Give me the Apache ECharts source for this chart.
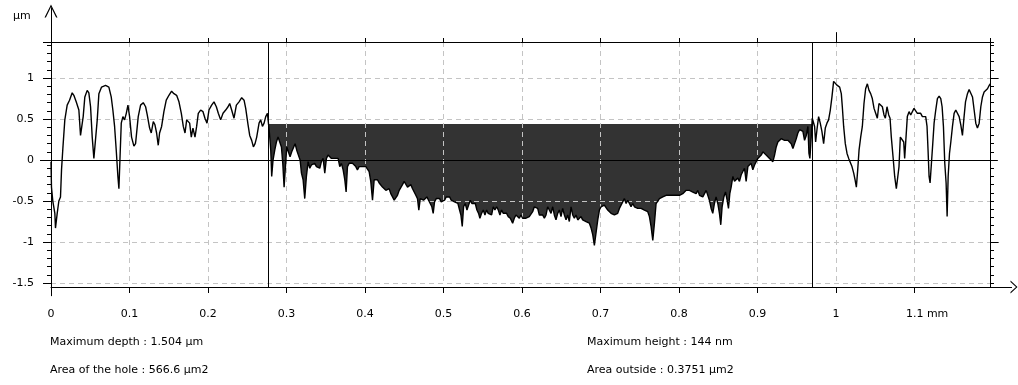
<!DOCTYPE html>
<html><head><meta charset="utf-8">
<script src="https://cdn.jsdelivr.net/npm/echarts@6/dist/echarts.min.js"></script>
<style>html,body{margin:0;padding:0;background:#fff}#c{width:1018px;height:385px}</style>
</head><body><div id="c"></div>
<script>
// ---- data (x in mm, height in µm) ----
const profileLeft = [[0,-0.02],[0.0006,-0.33],[0.0023,-0.5],[0.0049,-0.65],[0.0057,-0.83],[0.0079,-0.65],[0.0100,-0.5],[0.0121,-0.45],[0.0134,-0.12],[0.0151,0.14],[0.0176,0.49],[0.0206,0.67],[0.0236,0.73],[0.0270,0.82],[0.0291,0.79],[0.0321,0.71],[0.0355,0.61],[0.0376,0.30],[0.0397,0.28],[0.0410,0.53],[0.0431,0.77],[0.0461,0.85],[0.0482,0.82],[0.0504,0.65],[0.0525,0.28],[0.0546,0.02],[0.0567,0.02],[0.0589,0.49],[0.0610,0.81],[0.0644,0.89],[0.0695,0.91],[0.0737,0.89],[0.0767,0.77],[0.0788,0.61],[0.0810,0.41],[0.0831,0.12],[0.0852,-0.2],[0.0865,-0.35],[0.0878,0],[0.0895,0.45],[0.0916,0.53],[0.0937,0.49],[0.0959,0.57],[0.0980,0.67],[0.1001,0.53],[0.1026,0.28],[0.1056,0.17],[0.1077,0.2],[0.1111,0.53],[0.1141,0.67],[0.1175,0.70],[0.1205,0.65],[0.1226,0.55],[0.1256,0.39],[0.1277,0.33],[0.1303,0.47],[0.1324,0.43],[0.1345,0.33],[0.1366,0.18],[0.1383,0.33],[0.1409,0.41],[0.1438,0.59],[0.1468,0.73],[0.1502,0.79],[0.1536,0.84],[0.1566,0.81],[0.1600,0.79],[0.1630,0.71],[0.1660,0.57],[0.1685,0.41],[0.1707,0.33],[0.1728,0.49],[0.1749,0.47],[0.1766,0.45],[0.1787,0.28],[0.1808,0.39],[0.1834,0.28],[0.1855,0.41],[0.1876,0.57],[0.1906,0.61],[0.1936,0.59],[0.1961,0.51],[0.1987,0.45],[0.2012,0.61],[0.2046,0.67],[0.2076,0.71],[0.2106,0.65],[0.2131,0.57],[0.2161,0.49],[0.2191,0.57],[0.2225,0.61],[0.2255,0.65],[0.2276,0.69],[0.2301,0.61],[0.2331,0.51],[0.2361,0.67],[0.2395,0.71],[0.2429,0.76],[0.2459,0.73],[0.2480,0.63],[0.2510,0.43],[0.2531,0.3],[0.2556,0.24],[0.2578,0.16],[0.2599,0.2],[0.2620,0.28],[0.2650,0.45],[0.2671,0.49],[0.2693,0.41],[0.2714,0.45],[0.2735,0.53],[0.2757,0.57]];

const holeWest = [[0.2765,0.57],[0.2782,0.33],[0.2799,0.12],[0.2811,-0.2],[0.2828,0],[0.2850,0.12],[0.2871,0.22],[0.2892,0.28],[0.2913,0.30],[0.2935,0.16],[0.2952,-0.04],[0.2969,-0.33],[0.2986,-0.08],[0.3003,0.16],[0.3024,0.14],[0.3045,0.04],[0.3066,0.10],[0.3088,0.08],[0.3109,0.20],[0.3130,0.12],[0.3151,0.06],[0.3173,0],[0.3190,-0.16],[0.3211,-0.24],[0.3232,-0.47],[0.3253,-0.2],[0.3275,-0.02],[0.3296,-0.1],[0.3317,-0.06],[0.3338,-0.08],[0.3359,-0.04],[0.3381,-0.08],[0.3402,-0.06],[0.3423,-0.1],[0.3444,-0.02],[0.3466,0.02],[0.3487,-0.16],[0.3508,0.02],[0.3529,0.06],[0.3551,0.08],[0.3572,0.02],[0.3593,0.04],[0.3614,0.02],[0.3636,0],[0.3657,0.02],[0.3678,-0.08],[0.3699,-0.04],[0.3721,-0.12],[0.3742,-0.24],[0.3759,-0.39],[0.3776,-0.08],[0.3797,-0.04],[0.3818,-0.02],[0.3840,-0.04],[0.3861,-0.02],[0.3882,-0.08],[0.3903,-0.12],[0.3925,-0.08],[0.3946,-0.1],[0.3967,-0.08],[0.3988,-0.1],[0.4010,-0.08],[0.4031,-0.1],[0.4052,-0.14],[0.4073,-0.26],[0.4095,-0.49],[0.4116,-0.24],[0.4137,-0.22],[0.4158,-0.24],[0.4180,-0.28],[0.4201,-0.3],[0.4222,-0.33],[0.4243,-0.35],[0.4265,-0.37],[0.4286,-0.39],[0.4307,-0.35],[0.4328,-0.41],[0.4350,-0.45],[0.4371,-0.49],[0.4392,-0.51],[0.4413,-0.43],[0.4435,-0.37],[0.4456,-0.35],[0.4477,-0.3],[0.4498,-0.26],[0.4520,-0.28],[0.4541,-0.33],[0.4562,-0.35],[0.4583,-0.3],[0.4605,-0.35],[0.4626,-0.33],[0.4647,-0.43],[0.4668,-0.47],[0.4685,-0.61],[0.4703,-0.47],[0.4724,-0.45],[0.4745,-0.49],[0.4766,-0.47],[0.4788,-0.45],[0.4809,-0.49],[0.4830,-0.53],[0.4851,-0.57],[0.4868,-0.65],[0.4885,-0.51],[0.4907,-0.47],[0.4928,-0.49],[0.4949,-0.47],[0.4970,-0.51],[0.4992,-0.53],[0.5013,-0.49],[0.5034,-0.45],[0.5055,-0.47],[0.5077,-0.45],[0.5098,-0.49],[0.5119,-0.47],[0.5140,-0.51],[0.5162,-0.49],[0.5183,-0.53],[0.5204,-0.61],[0.5221,-0.67],[0.5238,-0.81],[0.5255,-0.57],[0.5276,-0.53],[0.5298,-0.61],[0.5319,-0.55],[0.5340,-0.49],[0.5361,-0.53],[0.5383,-0.51],[0.5404,-0.53],[0.5425,-0.61],[0.5446,-0.65],[0.5463,-0.71],[0.5484,-0.65],[0.5506,-0.61],[0.5527,-0.67],[0.5548,-0.61],[0.5569,-0.65],[0.5591,-0.63],[0.5612,-0.67],[0.5633,-0.57],[0.5654,-0.61],[0.5676,-0.57],[0.5697,-0.61],[0.5718,-0.67],[0.5739,-0.61],[0.5761,-0.65],[0.5782,-0.67],[0.5803,-0.65],[0.5824,-0.69],[0.5850,-0.71]];

const holeEast = [[0.5858,-0.73],[0.5880,-0.77],[0.5901,-0.71],[0.5922,-0.67],[0.5944,-0.69],[0.5965,-0.71],[0.5986,-0.67],[0.6007,-0.71],[0.6029,-0.69],[0.6050,-0.71],[0.6071,-0.71],[0.6092,-0.69],[0.6114,-0.67],[0.6135,-0.63],[0.6156,-0.57],[0.6177,-0.55],[0.6199,-0.59],[0.6220,-0.67],[0.6241,-0.69],[0.6262,-0.67],[0.6284,-0.71],[0.6305,-0.67],[0.6326,-0.57],[0.6347,-0.61],[0.6369,-0.65],[0.6390,-0.57],[0.6411,-0.67],[0.6432,-0.73],[0.6454,-0.65],[0.6475,-0.61],[0.6496,-0.69],[0.6517,-0.59],[0.6539,-0.67],[0.6560,-0.73],[0.6581,-0.67],[0.6602,-0.75],[0.6624,-0.57],[0.6645,-0.67],[0.6666,-0.71],[0.6687,-0.67],[0.6709,-0.73],[0.6730,-0.71],[0.6751,-0.69],[0.6772,-0.73],[0.6794,-0.71],[0.6815,-0.75],[0.6836,-0.77],[0.6857,-0.77],[0.6879,-0.83],[0.6900,-0.91],[0.6921,-1.04],[0.6942,-0.89],[0.6964,-0.73],[0.6985,-0.61],[0.7006,-0.57],[0.7027,-0.59],[0.7048,-0.55],[0.7070,-0.57],[0.7091,-0.61],[0.7112,-0.59],[0.7133,-0.65],[0.7155,-0.63],[0.7176,-0.67],[0.7197,-0.69],[0.7218,-0.65],[0.7240,-0.59],[0.7261,-0.55],[0.7282,-0.51],[0.7303,-0.47],[0.7325,-0.53],[0.7346,-0.49],[0.7367,-0.53],[0.7388,-0.57],[0.7410,-0.53],[0.7431,-0.57],[0.7452,-0.55],[0.7473,-0.59],[0.7495,-0.57],[0.7516,-0.59],[0.7537,-0.57],[0.7558,-0.61],[0.7580,-0.59],[0.7601,-0.63],[0.7622,-0.69],[0.7643,-0.81],[0.7665,-0.98],[0.7686,-0.77],[0.7707,-0.53],[0.7728,-0.51],[0.7750,-0.47],[0.7771,-0.49],[0.7792,-0.45],[0.7813,-0.47],[0.7835,-0.43],[0.7856,-0.45],[0.7877,-0.43],[0.7898,-0.41],[0.7920,-0.43],[0.7941,-0.41],[0.7962,-0.43],[0.7983,-0.43],[0.8005,-0.43],[0.8026,-0.43],[0.8047,-0.41],[0.8068,-0.39],[0.8090,-0.37],[0.8111,-0.39],[0.8132,-0.37],[0.8153,-0.35],[0.8175,-0.39],[0.8196,-0.37],[0.8217,-0.41],[0.8238,-0.37],[0.8260,-0.43],[0.8281,-0.41],[0.8302,-0.45],[0.8323,-0.43],[0.8345,-0.37],[0.8366,-0.39],[0.8386,-0.49],[0.8408,-0.59],[0.8429,-0.65],[0.8450,-0.53],[0.8471,-0.45],[0.8493,-0.53],[0.8514,-0.65],[0.8531,-0.79],[0.8548,-0.57],[0.8570,-0.45],[0.8591,-0.39],[0.8612,-0.49],[0.8629,-0.59],[0.8646,-0.41],[0.8663,-0.33],[0.8685,-0.2],[0.8706,-0.26],[0.8727,-0.24],[0.8748,-0.22],[0.8769,-0.26],[0.8791,-0.18],[0.8812,-0.14],[0.8833,-0.1],[0.8854,-0.26],[0.8876,-0.08],[0.8897,-0.06],[0.8918,-0.04],[0.8939,-0.12],[0.8961,-0.06],[0.8982,-0.02],[0.9003,0.02],[0.9024,0.04],[0.9046,0.06],[0.9067,0.1],[0.9088,0.12],[0.9109,0.06],[0.9131,0.04],[0.9152,0.02]];

const profileRight = [[0.9173,0],[0.9195,-0.02],[0.9216,0.06],[0.9237,0.16],[0.9258,0.22],[0.9280,0.24],[0.9301,0.26],[0.9322,0.24],[0.9343,0.24],[0.9365,0.22],[0.9386,0.24],[0.9407,0.22],[0.9428,0.2],[0.9450,0.14],[0.9471,0.2],[0.9492,0.26],[0.9513,0.33],[0.9535,0.37],[0.9556,0.39],[0.9577,0.35],[0.9598,0.24],[0.9620,0.3],[0.9641,0.41],[0.9654,0.08],[0.9666,0.02],[0.9683,0.28],[0.9696,0.51],[0.9713,0.53],[0.9726,0.41],[0.9739,0.22],[0.9756,0.37],[0.9777,0.53],[0.9798,0.45],[0.9819,0.35],[0.9841,0.2],[0.9862,0.39],[0.9883,0.45],[0.9904,0.49],[0.9926,0.61],[0.9947,0.77],[0.9968,0.96],[0.9989,0.98],[1.0015,0.91],[1.0045,0.89],[1.0066,0.81],[1.0079,0.65],[1.0096,0.41],[1.0117,0.2],[1.0139,0.08],[1.0160,0.02],[1.0181,0.02],[1.0202,-0.08],[1.0224,-0.16],[1.0241,-0.24],[1.0258,-0.33],[1.0275,-0.12],[1.0292,0.12],[1.0313,0.28],[1.0334,0.41],[1.0355,0.69],[1.0376,0.87],[1.0398,0.93],[1.0419,0.85],[1.0440,0.81],[1.0461,0.75],[1.0483,0.63],[1.0504,0.57],[1.0525,0.51],[1.0546,0.69],[1.0568,0.69],[1.0589,0.65],[1.0610,0.55],[1.0627,0.51],[1.0648,0.65],[1.0670,0.55],[1.0687,0.51],[1.0703,0.28],[1.0725,0.04],[1.0746,-0.2],[1.0767,-0.35],[1.0788,-0.37],[1.0801,-0.08],[1.0818,0.28],[1.0839,0.3],[1.0861,0.22],[1.0873,0.02],[1.0895,0.02],[1.0907,0.53],[1.0929,0.59],[1.0950,0.55],[1.0971,0.53],[1.0992,0.63],[1.1014,0.61],[1.1035,0.57],[1.1056,0.55],[1.1077,0.57],[1.1099,0.53],[1.1120,0.55],[1.1141,0.53],[1.1158,0.41],[1.1171,0.12],[1.1184,-0.2],[1.1197,-0.28],[1.1214,-0.04],[1.1231,0.2],[1.1248,0.45],[1.1269,0.61],[1.1290,0.75],[1.1312,0.78],[1.1333,0.75],[1.1350,0.65],[1.1367,0.41],[1.1384,-0.04],[1.1401,-0.28],[1.1414,-0.69],[1.1427,-0.2],[1.1444,0.08],[1.1461,0.22],[1.1482,0.41],[1.1503,0.57],[1.1524,0.61],[1.1545,0.59],[1.1567,0.53],[1.1588,0.43],[1.1609,0.3],[1.1626,0.49],[1.1648,0.71],[1.1673,0.81],[1.1694,0.86],[1.1715,0.85],[1.1737,0.77],[1.1758,0.61],[1.1779,0.45],[1.1800,0.39],[1.1822,0.45],[1.1843,0.65],[1.1864,0.77],[1.1885,0.83],[1.1907,0.85],[1.1928,0.87],[1.1949,0.91],[1.1966,0.93]];

const holeBounds = [0.2764, 0.9697];   // vertical cursors (mm)
const holeLevel = 0.44;                // reference level of the hole (µm)
const infoLeft = ['Maximum depth : 1.504 µm', 'Area of the hole : 566.6 µm2'];
const infoRight = ['Maximum height : 144 nm', 'Area outside : 0.3751 µm2'];
const yUnit = 'µm';
const xUnit = 'mm';

// ---- chart ----
const X_MIN = 0, X_MAX = 1.196, Y_MIN = -1.5, Y_MAX = 1.44, Y_AXIS = -1.55;
const FONT = 'DejaVu Sans';
const profile = profileLeft.concat(holeWest, holeEast, profileRight);
const holeFill = [[holeBounds[0], holeLevel]]
  .concat(profile.filter(p => p[0] > holeBounds[0] && p[0] < holeBounds[1]).map(p => [p[0], Math.min(p[1], holeLevel)]))
  .concat([[holeBounds[1], holeLevel]]);

const chevX = 'path://M0,7 L6.5,0 L13,7 L11.4,7 L6.5,1.5 L1.6,7 Z';
const chevY = 'path://M0,13 L6.5,0 L13,13 L11.6,13 L6.5,2.6 L1.4,13 Z';
const grey = '#c4c4c4';
const txt = {fontFamily: FONT, fontSize: 11, color: '#000', fontWeight: 'normal'};

const decor = [
  [[holeBounds[0], Y_AXIS], [holeBounds[0], Y_MAX]],
  [[holeBounds[1], Y_AXIS], [holeBounds[1], Y_MAX]],
  [[-0.014, 0], [1.206, 0]],
  [[X_MAX, Y_AXIS], [1.224, Y_AXIS]],
  [[X_MAX, Y_MIN], [X_MAX, Y_AXIS]],
  [[X_MIN, Y_MIN], [X_MIN, -1.66]],
  [[X_MIN, Y_MAX], [X_MIN, 1.86]],
  [[1, Y_MAX], [1, 1.56]],
  [[X_MAX, 1], [1.207, 1]],
  [[X_MAX, -1], [1.207, -1]]
];

const chart = echarts.init(document.getElementById('c'), null, {renderer: 'canvas'});
chart.setOption({
  animation: false,
  backgroundColor: '#fff',
  title: [
    {text: yUnit, left: 13, top: 11, padding: 0, textStyle: txt},
    {text: infoLeft[0], left: 50, top: 337, padding: 0, textStyle: txt},
    {text: infoLeft[1], left: 50, top: 365, padding: 0, textStyle: txt},
    {text: infoRight[0], left: 587, top: 337, padding: 0, textStyle: txt},
    {text: infoRight[1], left: 587, top: 365, padding: 0, textStyle: txt}
  ],
  grid: {left: 51, right: 28, top: 42, bottom: 102, containLabel: false, outerBoundsMode: 'none'},
  xAxis: [{
    type: 'value', position: 'bottom', min: X_MIN, max: X_MAX, interval: 0.1, offset: 4, z: 3,
    axisLine: {show: true, onZero: false, lineStyle: {color: '#000', width: 1}, symbol: ['none', chevX], symbolSize: [13, 7], symbolOffset: [0, 24]},
    axisTick: {show: true, inside: false, length: 6, lineStyle: {color: '#000'}},
    axisLabel: {show: true, margin: 22, showMaxLabel: false, fontFamily: FONT, fontSize: 11, color: '#000',
      formatter: v => Math.abs(v - 1.1) < 1e-9 ? '{pad|}1.1 ' + xUnit : String(v),
      rich: {pad: {width: 25}}},
    splitLine: {show: true, lineStyle: {color: grey, width: 1, type: [5, 4]}}
  }, {
    type: 'value', position: 'top', min: X_MIN, max: X_MAX, interval: 0.1, z: 3,
    axisLine: {show: true, onZero: false, lineStyle: {color: '#000', width: 1}},
    axisTick: {show: true, inside: false, length: 4, lineStyle: {color: '#000'}},
    axisLabel: {show: false}, splitLine: {show: false}
  }],
  yAxis: [{
    type: 'value', position: 'left', min: Y_MIN, max: Y_MAX, interval: 0.5, z: 3,
    axisLine: {show: true, onZero: false, lineStyle: {color: '#000', width: 1}, symbol: ['none', chevY], symbolSize: [13, 13], symbolOffset: [0, 31]},
    axisTick: {show: true, inside: false, length: 8, lineStyle: {color: '#000'}},
    minorTick: {show: true, splitNumber: 5, length: 4, lineStyle: {color: '#000'}},
    axisLabel: {show: true, margin: 17, showMaxLabel: false, fontFamily: FONT, fontSize: 11, color: '#000'},
    splitLine: {show: true, lineStyle: {color: grey, width: 1, type: [5, 4]}}
  }, {
    type: 'value', position: 'right', min: Y_MIN, max: Y_MAX, interval: 0.5, z: 3,
    axisLine: {show: true, onZero: false, lineStyle: {color: '#000', width: 1}},
    axisTick: {show: true, inside: false, length: 4, lineStyle: {color: '#000'}},
    minorTick: {show: true, splitNumber: 5, length: 4, lineStyle: {color: '#000'}},
    axisLabel: {show: false}, splitLine: {show: false}
  }],
  series: [{
    name: 'hole', type: 'line', xAxisIndex: 0, yAxisIndex: 0, data: holeFill, z: 2, silent: true,
    showSymbol: false, symbol: 'none', lineStyle: {width: 0, opacity: 0},
    areaStyle: {origin: holeLevel, color: '#333333', opacity: 1}
  }, {
    name: 'profile', type: 'line', xAxisIndex: 0, yAxisIndex: 0, data: profile, z: 4, silent: true,
    showSymbol: false, symbol: 'none',
    lineStyle: {color: '#000', width: 1.4}
  }, {
    name: 'frame', type: 'lines', coordinateSystem: 'cartesian2d', xAxisIndex: 0, yAxisIndex: 0,
    clip: false, z: 5, silent: true,
    lineStyle: {color: '#000', width: 1, opacity: 1, curveness: 0},
    data: decor.map(c => ({coords: c}))
  }]
});
</script></body></html>
